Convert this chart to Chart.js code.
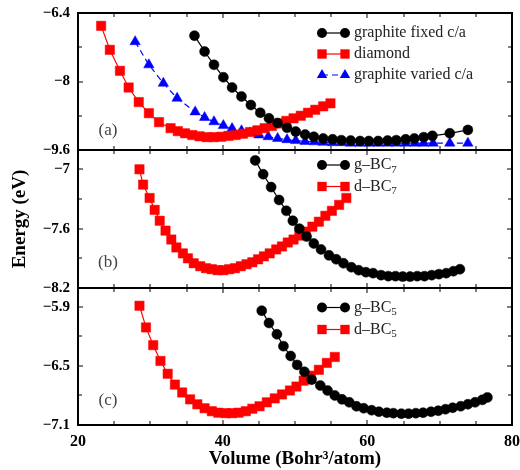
<!DOCTYPE html>
<html>
<head>
<meta charset="utf-8">
<script src="https://cdn.jsdelivr.net/npm/chart.js@4.4.0/dist/chart.umd.min.js"></script>
<style>
  body { margin: 0; background: #fff; }
  #wrap { position: relative; width: 520px; height: 470px; }
  #wrap canvas { position: absolute; left: 0; top: 0; }
</style>
</head>
<body>
<div id="wrap">
  <canvas id="panel-a" width="520" height="470"></canvas>
  <canvas id="panel-b" width="520" height="470"></canvas>
  <canvas id="panel-c" width="520" height="470"></canvas>
</div>
<script>
// panel (a): carbon
const volAFixed = [36.1, 37.5, 38.8, 40.1, 41.3, 42.6, 43.9, 45.2, 46.4, 47.6, 48.9, 50.1, 51.4, 52.6, 53.9, 55.2, 56.4, 57.7, 59.0, 60.2, 61.5, 62.8, 64.0, 65.3, 66.5, 67.8, 69.0, 71.4, 73.9];
const engAFixed = [-6.93, -7.30, -7.61, -7.90, -8.14, -8.35, -8.55, -8.73, -8.86, -8.97, -9.08, -9.17, -9.24, -9.29, -9.33, -9.35, -9.37, -9.38, -9.39, -9.39, -9.39, -9.38, -9.37, -9.35, -9.33, -9.30, -9.27, -9.21, -9.13];
const volADiam = [23.2, 24.4, 25.8, 27.0, 28.4, 29.8, 31.2, 32.8, 33.8, 34.8, 35.8, 36.8, 37.8, 38.8, 39.8, 40.8, 41.8, 42.8, 43.8, 44.8, 45.8, 46.8, 47.8, 48.8, 49.8, 50.8, 51.8, 52.8, 53.9, 54.9];
const engADiam = [-6.70, -7.26, -7.75, -8.14, -8.48, -8.74, -8.95, -9.09, -9.16, -9.21, -9.25, -9.28, -9.30, -9.30, -9.29, -9.27, -9.25, -9.22, -9.18, -9.14, -9.09, -9.04, -8.98, -8.92, -8.86, -8.80, -8.73, -8.66, -8.58, -8.51];
const volAVar = [27.9, 29.8, 31.8, 33.7, 36.2, 37.5, 38.8, 40.1, 41.3, 42.6, 43.8, 45.0, 46.3, 47.6, 48.9, 50.1, 51.4, 52.7, 53.9, 55.2, 56.5, 57.7, 59.0, 60.3, 61.5, 62.8, 64.0, 65.3, 66.6, 67.8, 69.1, 71.4, 73.9];
const engAVar = [-7.07, -7.61, -8.04, -8.39, -8.71, -8.84, -8.94, -9.03, -9.10, -9.15, -9.20, -9.25, -9.29, -9.33, -9.36, -9.38, -9.40, -9.41, -9.42, -9.43, -9.43, -9.44, -9.44, -9.44, -9.44, -9.44, -9.44, -9.44, -9.44, -9.44, -9.44, -9.44, -9.44];

// panel (b): BC7
const volBG = [44.5, 45.6, 46.7, 47.8, 48.8, 49.7, 50.6, 51.6, 52.6, 53.6, 54.7, 55.7, 56.7, 57.8, 58.8, 59.8, 60.8, 61.9, 62.9, 63.9, 64.9, 65.9, 66.9, 67.9, 68.9, 69.9, 70.9, 71.9, 72.8];
const engBG = [-6.91, -7.05, -7.18, -7.31, -7.42, -7.52, -7.60, -7.68, -7.75, -7.81, -7.87, -7.91, -7.95, -7.99, -8.02, -8.04, -8.05, -8.07, -8.08, -8.08, -8.085, -8.085, -8.08, -8.08, -8.07, -8.06, -8.05, -8.03, -8.01];
const volBD = [28.5, 29.0, 29.9, 30.6, 31.3, 32.1, 32.9, 33.6, 34.5, 35.2, 36.0, 36.9, 37.7, 38.5, 39.3, 40.1, 40.9, 41.7, 42.5, 43.3, 44.1, 44.9, 45.7, 46.5, 47.4, 48.2, 49.0, 49.8, 50.6, 51.5, 52.4, 53.3, 54.2, 55.1, 56.1, 57.1];
const engBD = [-7.00, -7.155, -7.29, -7.41, -7.52, -7.62, -7.71, -7.79, -7.85, -7.90, -7.95, -7.98, -8.00, -8.01, -8.02, -8.02, -8.01, -8.00, -7.98, -7.96, -7.94, -7.91, -7.88, -7.85, -7.81, -7.78, -7.74, -7.71, -7.67, -7.63, -7.58, -7.53, -7.47, -7.42, -7.36, -7.29];

// panel (c): BC5
const volCG = [45.4, 46.4, 47.5, 48.4, 49.4, 50.3, 51.3, 52.3, 53.5, 54.5, 55.5, 56.5, 57.5, 58.5, 59.5, 60.6, 61.6, 62.7, 63.6, 64.7, 65.7, 66.7, 67.7, 68.8, 69.8, 70.8, 71.8, 72.9, 73.9, 74.9, 75.9, 76.6];
const engCG = [-5.94, -6.065, -6.18, -6.30, -6.40, -6.49, -6.56, -6.64, -6.70, -6.75, -6.80, -6.84, -6.87, -6.91, -6.93, -6.95, -6.965, -6.975, -6.98, -6.985, -6.985, -6.98, -6.975, -6.965, -6.955, -6.94, -6.925, -6.91, -6.89, -6.87, -6.845, -6.82];
const volCD = [28.5, 29.4, 30.4, 31.4, 32.4, 33.4, 34.4, 35.5, 36.5, 37.5, 38.5, 39.4, 40.4, 41.3, 42.2, 43.2, 44.1, 45.1, 46.1, 47.2, 48.2, 49.3, 50.2, 51.2, 52.2, 53.3, 54.4, 55.5];
const engCD = [-5.89, -6.11, -6.29, -6.45, -6.58, -6.69, -6.77, -6.84, -6.89, -6.93, -6.96, -6.975, -6.98, -6.98, -6.975, -6.96, -6.935, -6.91, -6.87, -6.83, -6.79, -6.75, -6.71, -6.65, -6.60, -6.54, -6.47, -6.41];

// ticks
const xTicks = [20, 25, 30, 35, 40, 45, 50, 55, 60, 65, 70, 75, 80];
const xTickLabels = ['20', '', '', '', '40', '', '', '', '60', '', '', '', '80'];
const yTicksA = [-9.6, -8.8, -8, -7.2, -6.4];
const yLabelsA = ['−9.6', '', '−8', '', '−6.4'];
const yTicksB = [-8.2, -7.9, -7.6, -7.3, -7];
const yLabelsB = ['−8.2', '', '−7.6', '', '−7'];
const yTicksC = [-7.1, -6.8, -6.5, -6.2, -5.9];
const yLabelsC = ['−7.1', '', '−6.5', '', '−5.9'];

Chart.defaults.font.family = '"Liberation Serif", "DejaVu Serif", serif';

const pts = (xs, ys) => xs.map((x, i) => ({x: x, y: ys[i]}));

const black = (data) => ({data: data, borderColor: '#000', backgroundColor: '#000', borderWidth: 1.2,
  pointStyle: 'circle', pointRadius: 5, pointBackgroundColor: '#000', pointBorderColor: '#000', pointBorderWidth: 0.5});
const red = (data) => ({data: data, borderColor: '#ff0000', backgroundColor: '#ff0000', borderWidth: 1.2,
  pointStyle: 'rect', pointRadius: 6.6, pointBackgroundColor: '#ff0000', pointBorderColor: '#ff0000', pointBorderWidth: 0.5});
const blue = (data) => ({data: data, borderColor: '#0000ff', backgroundColor: '#0000ff', borderWidth: 1.2, borderDash: [6, 4],
  pointStyle: 'triangle', pointRadius: 6, pointBackgroundColor: '#0000ff', pointBorderColor: '#0000ff', pointBorderWidth: 0.5});

function legendText(ctx, item, x, y) {
  ctx.font = '16px "Liberation Serif", serif';
  ctx.fillText(item.text, x, y);
  if (item.sub) {
    const w = ctx.measureText(item.text).width;
    ctx.font = '11px "Liberation Serif", serif';
    ctx.fillText(item.sub, x + w, y + 5);
  }
}

function makePanel(id, p) {
  const deco = {
    id: 'panelDeco',
    afterDraw(chart) {
      const ctx = chart.ctx;
      const xs = chart.scales.x;
      const ys = chart.scales.y;
      const left = Math.round(xs.getPixelForValue(20));
      const right = Math.round(xs.getPixelForValue(80));
      const top = Math.round(ys.getPixelForValue(p.yMax));
      const bottom = Math.round(ys.getPixelForValue(p.yMin));
      ctx.save();
      ctx.fillStyle = '#000';
      // frame drawn as filled bars
      ctx.fillRect(left - 1, top - 1, right - left + 2, 2);
      ctx.fillRect(left - 1, bottom - 1, right - left + 2, 2);
      ctx.fillRect(left - 1, top - 1, 2, bottom - top + 2);
      ctx.fillRect(right - 1, top - 1, 2, bottom - top + 2);
      // inward ticks on all four sides
      xTicks.forEach((v, i) => {
        const px = Math.round(xs.getPixelForValue(v));
        const len = xTickLabels[i] ? 5 : 4;
        ctx.fillRect(px - 0.5, bottom - len, 1, len);
        ctx.fillRect(px - 0.5, top, 1, len);
      });
      p.yTicks.forEach((v, i) => {
        const py = Math.round(ys.getPixelForValue(v));
        const len = p.yLabels[i] ? 5 : 4;
        ctx.fillRect(left, py - 0.5, len, 1);
        ctx.fillRect(right - len, py - 0.5, len, 1);
      });

      // panel tag
      ctx.fillStyle = '#444';
      ctx.font = '17px "Liberation Serif", serif';
      ctx.textAlign = 'center';
      ctx.textBaseline = 'middle';
      ctx.fillText(p.tag, 108, p.tagY);

      // legend
      ctx.textAlign = 'left';
      p.legend.forEach((item, i) => {
        const ds = chart.data.datasets[i];
        const ly = p.legendY + i * p.legendGap;
        ctx.strokeStyle = ds.borderColor;
        ctx.fillStyle = ds.pointBackgroundColor;
        ctx.lineWidth = ds.borderWidth;
        ctx.setLineDash(ds.borderDash || []);
        ctx.beginPath();
        ctx.moveTo(322, ly); ctx.lineTo(345, ly);
        ctx.stroke();
        ctx.setLineDash([]);
        const opt = {pointStyle: ds.pointStyle, radius: ds.pointRadius, rotation: 0, borderWidth: 0};
        Chart.helpers.drawPoint(ctx, opt, 322, ly);
        Chart.helpers.drawPoint(ctx, opt, 345, ly);
        ctx.fillStyle = '#222';
        legendText(ctx, item, 354, ly);
      });
      ctx.restore();
    }
  };

  return new Chart(document.getElementById(id), {
    type: 'line',
    data: {datasets: p.datasets},
    options: {
      responsive: false,
      animation: false,
      layout: {padding: {left: 0, right: 8, top: p.top, bottom: p.bottom}},
      plugins: {legend: {display: false}, tooltip: {enabled: false}},
      scales: {
        x: {
          type: 'linear', min: 20, max: 80,
          display: p.showX,
          afterBuildTicks: s => { s.ticks = xTicks.map(v => ({value: v})); },
          afterFit: s => { s.height = p.showX ? 45 : 0; s.paddingLeft = 0; s.paddingRight = 0; },
          grid: {display: false, drawTicks: false},
          border: {display: true, color: '#000', width: 1.5},
          ticks: {autoSkip: false, maxRotation: 0, padding: 7, color: '#000',
            font: {size: 16, weight: 'bold'}, callback: (v, i) => xTickLabels[i]},
          title: {display: true, text: 'Volume (Bohr³/atom)', color: '#000',
            font: {size: 19, weight: 'bold'}, padding: {top: 0, bottom: 0}}
        },
        y: {
          type: 'linear', min: p.yMin, max: p.yMax,
          afterBuildTicks: s => { s.ticks = p.yTicks.map(v => ({value: v})); },
          afterFit: s => { s.width = 78; s.paddingTop = 0; s.paddingBottom = 0; },
          grid: {display: false, drawTicks: false},
          border: {display: true, color: '#000', width: 1.5},
          ticks: {autoSkip: false, padding: 8, color: '#000',
            font: {size: 15, weight: 'bold'}, callback: (v, i) => p.yLabels[i]},
          title: {display: !!p.yTitle, text: p.yTitle || '', color: '#000',
            font: {size: 19, weight: 'bold'}, padding: {top: 9, bottom: 0}}
        }
      }
    },
    plugins: [deco]
  });
}

makePanel('panel-a', {
  top: 13, bottom: 320, showX: false,
  yMin: -9.6, yMax: -6.4, yTicks: yTicksA, yLabels: yLabelsA,
  tag: '(a)', tagY: 131,
  legendY: 33, legendGap: 21,
  legend: [{text: 'graphite fixed c/a'}, {text: 'diamond'}, {text: 'graphite varied c/a'}],
  datasets: [black(pts(volAFixed, engAFixed)), red(pts(volADiam, engADiam)), blue(pts(volAVar, engAVar))]
});

makePanel('panel-b', {
  top: 150, bottom: 182, showX: false,
  yMin: -8.2, yMax: -6.805, yTicks: yTicksB, yLabels: yLabelsB, yTitle: 'Energy (eV)',
  tag: '(b)', tagY: 263,
  legendY: 165, legendGap: 21.5,
  legend: [{text: 'g\u2013BC', sub: '7'}, {text: 'd\u2013BC', sub: '7'}],
  datasets: [black(pts(volBG, engBG)), red(pts(volBD, engBD))]
});

makePanel('panel-c', {
  top: 288, bottom: 0, showX: true,
  yMin: -7.1, yMax: -5.71, yTicks: yTicksC, yLabels: yLabelsC,
  tag: '(c)', tagY: 401,
  legendY: 307.5, legendGap: 22,
  legend: [{text: 'g\u2013BC', sub: '5'}, {text: 'd\u2013BC', sub: '5'}],
  datasets: [black(pts(volCG, engCG)), red(pts(volCD, engCD))]
});
</script>
</body>
</html>
